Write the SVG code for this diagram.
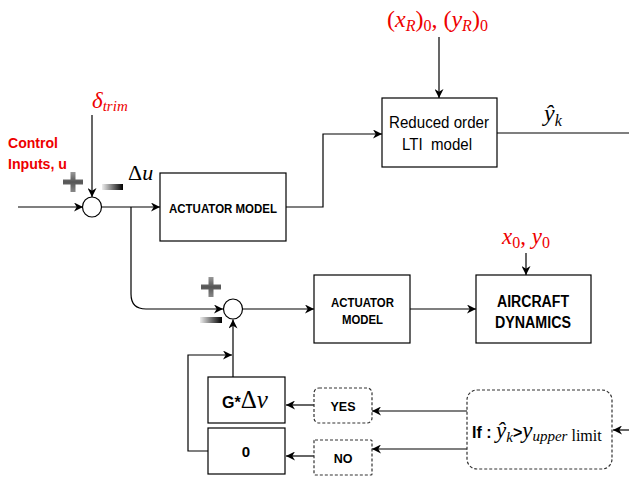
<svg xmlns="http://www.w3.org/2000/svg" width="629" height="477" viewBox="0 0 629 477">
<defs>
<style>
.box{fill:#fff;stroke:#000;stroke-width:1.2}
.dash{fill:#fff;stroke:#333;stroke-width:1.2;stroke-dasharray:3 2}
.ln{fill:none;stroke:#000;stroke-width:1.2}
.bl{font-family:"Liberation Sans",Arial,sans-serif;font-weight:bold;fill:#000}
.rg{font-family:"Liberation Sans",Arial,sans-serif;fill:#000}
.red{font-family:"Liberation Sans",Arial,sans-serif;font-weight:bold;fill:#ee0000}
.m{font-family:"Liberation Serif","Times New Roman",serif;font-style:italic}
.mr{font-family:"Liberation Serif","Times New Roman",serif}
</style>
<marker id="ar" viewBox="0 0 10 10" refX="10" refY="5" markerWidth="9" markerHeight="9" markerUnits="userSpaceOnUse" orient="auto">
<path d="M0,0 L10,5 L0,10 L3,5 z" fill="#000"/>
</marker>
<linearGradient id="gp" x1="0" y1="0" x2="0" y2="1">
<stop offset="0" stop-color="#999"/>
<stop offset="0.5" stop-color="#555"/>
<stop offset="1" stop-color="#888"/>
</linearGradient>
<linearGradient id="gm" x1="0" y1="0" x2="1" y2="0">
<stop offset="0" stop-color="#eee"/>
<stop offset="1" stop-color="#000"/>
</linearGradient>
<path id="plus" d="M-2.5,-10 h5 v7.5 h7.5 v5 h-7.5 v7.5 h-5 v-7.5 h-7.5 v-5 h7.5 z" fill="url(#gp)"/>
</defs>

<g id="connectors">
<line class="ln" x1="18" y1="207" x2="83" y2="207" marker-end="url(#ar)"/>
<line class="ln" x1="92" y1="115" x2="92" y2="197" marker-end="url(#ar)"/>
<line class="ln" x1="101.5" y1="207" x2="160" y2="207" marker-end="url(#ar)"/>
<path class="ln" d="M131,207 V294 Q131,309 146,309 H223" marker-end="url(#ar)"/>
<path class="ln" d="M286,207 H323 V134 H382" marker-end="url(#ar)"/>
<line class="ln" x1="439" y1="37" x2="439" y2="98" marker-end="url(#ar)"/>
<line class="ln" x1="497" y1="133" x2="629" y2="133"/>
<line class="ln" x1="242.5" y1="309" x2="314" y2="309" marker-end="url(#ar)"/>
<line class="ln" x1="410" y1="309" x2="476" y2="309" marker-end="url(#ar)"/>
<line class="ln" x1="526" y1="253" x2="526" y2="275" marker-end="url(#ar)"/>
<path class="ln" d="M233,377 V319.5" marker-end="url(#ar)"/>
<path class="ln" d="M208,451 H188 V355 H232" marker-end="url(#ar)"/>
<line class="ln" x1="314" y1="405" x2="286" y2="405" marker-end="url(#ar)"/>
<line class="ln" x1="314" y1="456" x2="286" y2="456" marker-end="url(#ar)"/>
<line class="ln" x1="467" y1="411" x2="372" y2="411" marker-end="url(#ar)"/>
<line class="ln" x1="467" y1="449" x2="372" y2="449" marker-end="url(#ar)"/>
<line class="ln" x1="629" y1="430" x2="613" y2="430" marker-end="url(#ar)"/>
</g>

<g id="labels">
<text class="red" font-size="15" x="8" y="148" textLength="50" lengthAdjust="spacingAndGlyphs">Control</text>
<text class="red" font-size="15" x="8" y="169" textLength="59" lengthAdjust="spacingAndGlyphs">Inputs, u</text>
<text fill="#ee0000" x="92" y="108"><tspan class="m" font-size="23">δ</tspan><tspan class="m" font-size="15" dy="3">trim</tspan></text>
<text x="128" y="180" fill="#000"><tspan class="mr" font-size="22">Δ</tspan><tspan class="m" font-size="22">u</tspan></text>
<text fill="#ee0000" x="387" y="27" font-size="24"><tspan class="mr">(</tspan><tspan class="m">x</tspan><tspan class="m" font-size="16" dy="4">R</tspan><tspan class="mr" dy="-4">)</tspan><tspan class="mr" font-size="16" dy="4">0</tspan><tspan class="mr" dy="-4">, (</tspan><tspan class="m">y</tspan><tspan class="m" font-size="16" dy="4">R</tspan><tspan class="mr" dy="-4">)</tspan><tspan class="mr" font-size="16" dy="4">0</tspan></text>
<text x="544" y="121" fill="#000"><tspan class="m" font-size="24">ŷ</tspan><tspan class="m" font-size="16" dy="5">k</tspan></text>
<text fill="#ee0000" x="502" y="244" font-size="23"><tspan class="m">x</tspan><tspan class="mr" font-size="16" dy="4">0</tspan><tspan class="mr" dy="-4">, </tspan><tspan class="m">y</tspan><tspan class="mr" font-size="16" dy="4">0</tspan></text>
</g>

<g id="sum1">
<ellipse cx="92" cy="207" rx="9.5" ry="10" fill="#fff" stroke="#000" stroke-width="1.2"/>
<use href="#plus" x="73" y="182"/>
<rect x="102" y="184" width="21" height="6" fill="url(#gm)"/>
</g>

<g id="sum2">
<ellipse cx="233" cy="309" rx="9.5" ry="10" fill="#fff" stroke="#000" stroke-width="1.2"/>
<use href="#plus" x="211" y="287"/>
<rect x="200" y="317" width="22" height="6" fill="url(#gm)"/>
</g>

<g id="actuator1">
<rect class="box" x="160" y="173" width="126" height="68"/>
<text class="bl" font-size="13" x="169" y="213" textLength="108" lengthAdjust="spacingAndGlyphs">ACTUATOR MODEL</text>
</g>

<g id="lti">
<rect class="box" x="382" y="98" width="115" height="69"/>
<text class="rg" font-size="17" x="389" y="128" textLength="100" lengthAdjust="spacingAndGlyphs">Reduced order</text>
<text class="rg" font-size="17" x="402" y="150" textLength="70" lengthAdjust="spacingAndGlyphs" xml:space="preserve">LTI  model</text>
</g>

<g id="actuator2">
<rect class="box" x="314" y="275" width="96" height="68"/>
<text class="bl" font-size="12.5" x="331" y="307" textLength="63" lengthAdjust="spacingAndGlyphs">ACTUATOR</text>
<text class="bl" font-size="12.5" x="342" y="324" textLength="41" lengthAdjust="spacingAndGlyphs">MODEL</text>
</g>

<g id="aircraft">
<rect class="box" x="476" y="275" width="115" height="68"/>
<text class="bl" font-size="16" x="497" y="307" textLength="72" lengthAdjust="spacingAndGlyphs">AIRCRAFT</text>
<text class="bl" font-size="16" x="495" y="328" textLength="76" lengthAdjust="spacingAndGlyphs">DYNAMICS</text>
</g>

<g id="gain">
<rect class="box" x="208" y="377" width="77" height="46"/>
<text x="222" y="408" fill="#000"><tspan class="bl" font-size="16">G*</tspan><tspan class="mr" font-size="25">Δ</tspan><tspan class="m" font-size="25">ν</tspan></text>
</g>

<g id="zero">
<rect class="box" x="208" y="428" width="77" height="46"/>
<text class="bl" font-size="15" x="246" y="457" text-anchor="middle">0</text>
</g>

<g id="yes">
<rect class="dash" x="314" y="388" width="58" height="35" rx="5"/>
<text class="bl" font-size="12.5" x="343" y="411" text-anchor="middle">YES</text>
</g>

<g id="no">
<rect class="dash" x="314" y="440" width="58" height="35" rx="1"/>
<text class="bl" font-size="12.5" x="343" y="463" text-anchor="middle">NO</text>
</g>

<g id="ifbox">
<rect class="dash" x="467" y="390" width="145" height="79" rx="10"/>
<text x="472" y="438" fill="#000"><tspan class="bl" font-size="16">If : </tspan><tspan class="m" font-size="23">ŷ</tspan><tspan class="m" font-size="15" dy="4">k</tspan><tspan class="bl" font-size="16" dy="-4">&gt;</tspan><tspan class="m" font-size="23">y</tspan><tspan class="m" font-size="15" dy="3">upper</tspan><tspan class="mr" font-size="16"> limit</tspan></text>
</g>
</svg>
